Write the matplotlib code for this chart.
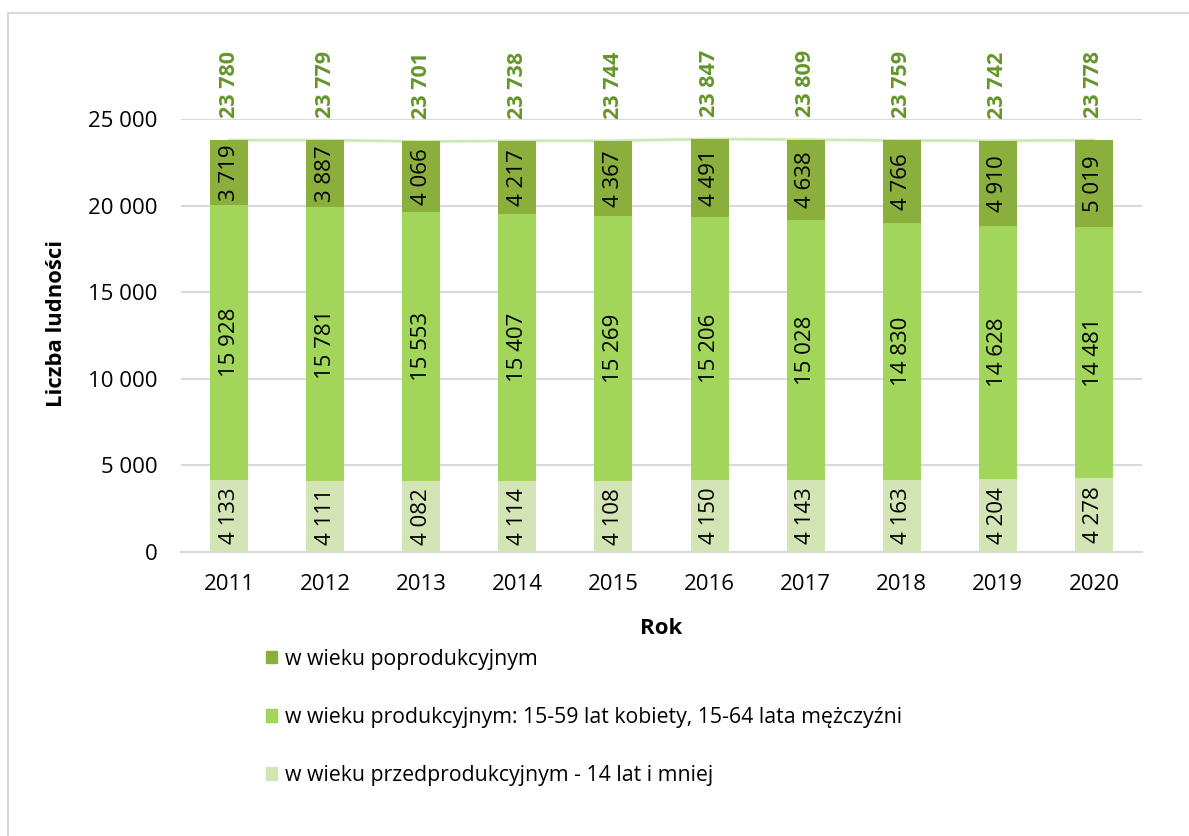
import matplotlib.pyplot as plt
import matplotlib.patches as mpatches
import numpy as np

plt.rcParams['font.family'] = ['Open Sans', 'DejaVu Sans']

lata = ['2011', '2012', '2013', '2014', '2015', '2016', '2017', '2018', '2019', '2020']
przedprod = [4133, 4111, 4082, 4114, 4108, 4150, 4143, 4163, 4204, 4278]
prod = [15928, 15781, 15553, 15407, 15269, 15206, 15028, 14830, 14628, 14481]
poprod = [3719, 3887, 4066, 4217, 4367, 4491, 4638, 4766, 4910, 5019]
razem = [23780, 23779, 23701, 23738, 23744, 23847, 23809, 23759, 23742, 23778]

etykiety = ['w wieku poprodukcyjnym',
            'w wieku produkcyjnym: 15-59 lat kobiety, 15-64 lata mężczyźni',
            'w wieku przedprodukcyjnym - 14 lat i mniej']

c_dark = '#8aaf3d'
c_mid = '#a2d65b'
c_light = '#d3e5b4'
c_line = '#cfe8b8'
c_total = '#64952a'
grid_c = '#d9d9d9'


def fmt(v):
    return f'{v:,}'.replace(',', ' ')


W, H = 1189, 836
fig = plt.figure(figsize=(W / 100, H / 100), dpi=100)
ax = fig.add_axes([181 / W, 1 - 552 / H, (1142 - 181) / W, (552 - 119) / H])

x = np.arange(len(lata))
bw = 0.395
b1 = ax.bar(x, przedprod, bw, color=c_light, zorder=3)
b2 = ax.bar(x, prod, bw, bottom=przedprod, color=c_mid, zorder=3)
bot3 = np.array(przedprod) + np.array(prod)
b3 = ax.bar(x, poprod, bw, bottom=bot3, color=c_dark, zorder=3)

ax.plot(x, razem, color=c_line, lw=2, zorder=2)

# etykiety w segmentach
for bars in (b1, b2, b3):
    for r in bars:
        h = r.get_height()
        ax.text(r.get_x() + r.get_width() / 2, r.get_y() + h / 2, fmt(int(h)),
                rotation=90, ha='center', va='center', fontsize=16,
                color='black', zorder=4)

# sumy nad słupkami
for xi, t in zip(x, razem):
    ax.annotate(fmt(t), (xi, t), xytext=(0, 16), textcoords='offset points',
                rotation=90, ha='center', va='bottom', fontsize=15.5,
                fontweight='bold', color=c_total, annotation_clip=False)

ax.set_xlim(-0.5, len(lata) - 0.5)
ax.set_ylim(0, 25000)
ax.set_yticks(np.arange(0, 25001, 5000))
ax.set_yticklabels([fmt(v) for v in range(0, 25001, 5000)])
ax.set_xticks(x)
ax.set_xticklabels(lata)
ax.tick_params(axis='both', length=0, labelsize=16)
ax.tick_params(axis='x', pad=16)
ax.tick_params(axis='y', pad=17)
ax.grid(axis='y', color=grid_c, lw=1.5, zorder=0)
for s in ['top', 'right', 'left']:
    ax.spines[s].set_visible(False)
ax.spines['bottom'].set_color(grid_c)
ax.spines['bottom'].set_linewidth(1.5)

fig.text(661 / W, 1 - 628 / H, 'Rok', ha='center', va='center',
         fontsize=16, fontweight='bold')
fig.text(56 / W, 1 - 323 / H, 'Liczba ludności', ha='center', va='center',
         rotation=90, fontsize=15.8, fontweight='bold')

handles = [mpatches.Patch(color=c) for c in (c_dark, c_mid, c_light)]
fig.legend(handles, etykiety, loc='upper left',
           bbox_to_anchor=(257 / W, 1 - 640 / H), frameon=False,
           fontsize=15.3, handlelength=0.55, handleheight=0.55,
           handletextpad=0.35, labelspacing=1.75, borderaxespad=0)

fig.add_artist(mpatches.Rectangle((8 / W, -0.1), 1.2, 1.1 - 13 / H,
                                  transform=fig.transFigure, fill=False,
                                  edgecolor=grid_c, lw=1.5))

fig.savefig('out.png', dpi=100)
